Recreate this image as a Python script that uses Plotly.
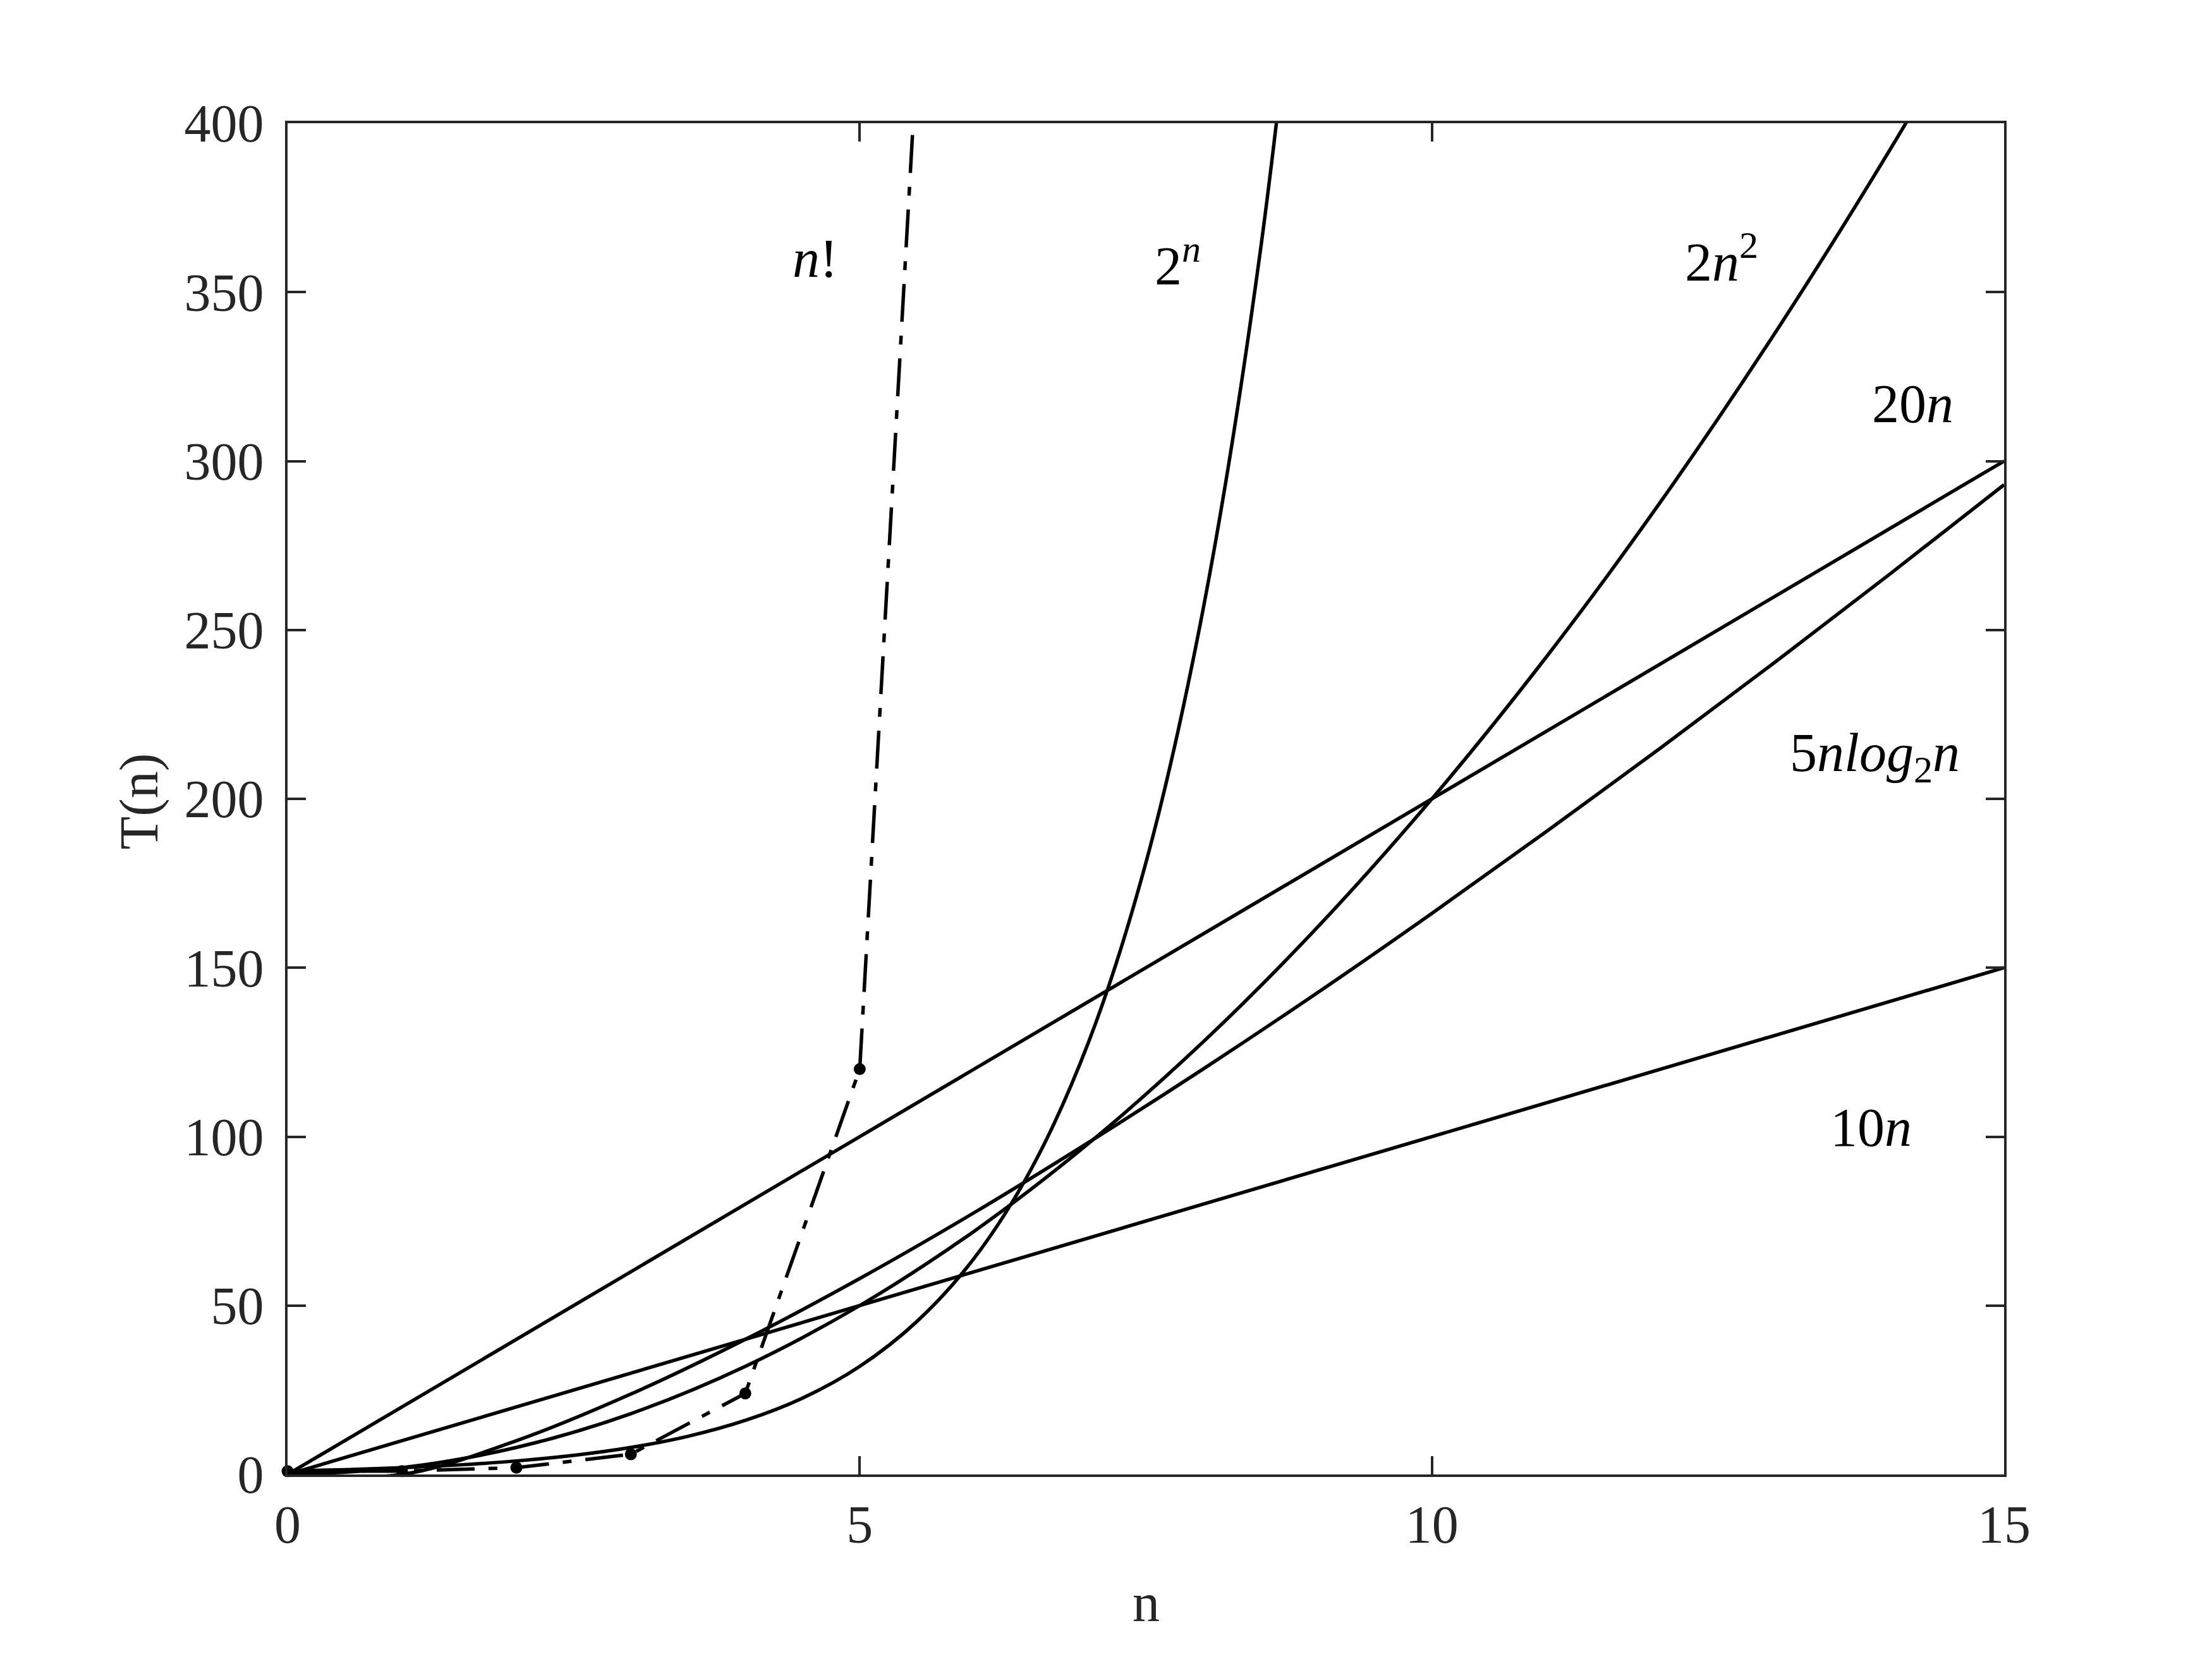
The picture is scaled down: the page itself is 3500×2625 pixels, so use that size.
import plotly.graph_objects as go

# values
n_lin = [0, 15]
t_10n = [0, 150]
t_20n = [0, 300]

n_int = [0, 1, 2, 3, 4, 5, 6, 7, 8, 9, 10, 11, 12, 13, 14, 15]
t_2n2 = [0, 2, 8, 18, 32, 50, 72, 98, 128, 162, 200, 242, 288, 338, 392, 450]
t_nlogn = [0, 0, 10, 23.8, 40, 58.0, 77.5, 98.3, 120, 142.6, 166.1,
           190.3, 215.1, 240.5, 266.5, 293.0]

n_half = [0, 0.5, 1, 1.5, 2, 2.5, 3, 3.5, 4, 4.5, 5, 5.5, 6, 6.5, 7, 7.5, 8, 8.5, 9]
t_2pow = [1, 1.41, 2, 2.83, 4, 5.66, 8, 11.3, 16, 22.6, 32, 45.3, 64, 90.5,
          128, 181, 256, 362, 512]

n_fact = [0, 1, 2, 3, 4, 5, 6]
t_fact = [1, 1, 2, 6, 24, 120, 720]

labels = ["<i>n</i>!", "2<sup><i>n</i></sup>", "2<i>n</i><sup>2</sup>",
          "20<i>n</i>", "5<i>nlog</i><sub>2</sub><i>n</i>", "10<i>n</i>"]
label_x = [4.61, 7.78, 12.53, 14.2, 13.87, 13.84]
label_y = [360, 359, 360, 317, 212.5, 102.7]

FONT = "Liberation Serif"
AX = "#262626"
LW = 5.5

fig = go.Figure()
solid = dict(color="black", width=LW)
fig.add_trace(go.Scatter(x=n_lin, y=t_10n, mode="lines", line=solid))
fig.add_trace(go.Scatter(x=n_lin, y=t_20n, mode="lines", line=solid))
fig.add_trace(go.Scatter(x=n_int, y=t_2n2, mode="lines",
                         line=dict(solid, shape="spline")))
fig.add_trace(go.Scatter(x=n_int, y=t_nlogn, mode="lines",
                         line=dict(solid, shape="spline")))
fig.add_trace(go.Scatter(x=n_half, y=t_2pow, mode="lines",
                         line=dict(solid, shape="spline")))
# n! : dash-dot through the integer points
fig.add_trace(go.Scatter(x=n_fact, y=t_fact, mode="lines",
                         line=dict(color="black", width=LW,
                                   dash="60px,22px,14px,22px")))
fig.add_trace(go.Scatter(x=n_fact[:-1], y=t_fact[:-1], mode="markers",
                         marker=dict(color="black", size=19),
                         cliponaxis=False))

for txt, lx, ly in zip(labels, label_x, label_y):
    fig.add_annotation(x=lx, y=ly, text=txt, showarrow=False,
                       xanchor="center", yanchor="middle",
                       font=dict(family=FONT, size=86, color="black"))

# axis titles
fig.add_annotation(xref="paper", yref="paper", x=0.5, y=-0.095, text="n",
                   xanchor="center", yanchor="middle", showarrow=False,
                   font=dict(family=FONT, size=86, color=AX))
fig.add_annotation(xref="paper", yref="paper", x=-0.0865, y=0.498, text="T(n)",
                   xanchor="center", yanchor="middle", textangle=-90,
                   showarrow=False, font=dict(family=FONT, size=86, color=AX))

axis_common = dict(
    showgrid=False, zeroline=False, showline=True, linecolor=AX, linewidth=3.5,
    mirror="ticks", ticks="inside", ticklen=29, tickwidth=3.5, tickcolor=AX,
    tickfont=dict(family=FONT, size=84, color=AX),
)
fig.update_xaxes(range=[0, 15], tickvals=[0, 5, 10, 15],
                 ticklabelstandoff=3, **axis_common)
fig.update_yaxes(range=[0, 400], tickvals=list(range(0, 401, 50)),
                 ticklabelstandoff=17, **axis_common)

# page body adds an 8px offset, so margins are shifted to compensate
fig.update_layout(
    width=3500, height=2625,
    margin=dict(l=447, r=337, t=187, b=300),
    plot_bgcolor="white", paper_bgcolor="white",
    showlegend=False,
)

fig.write_html("out.html")
